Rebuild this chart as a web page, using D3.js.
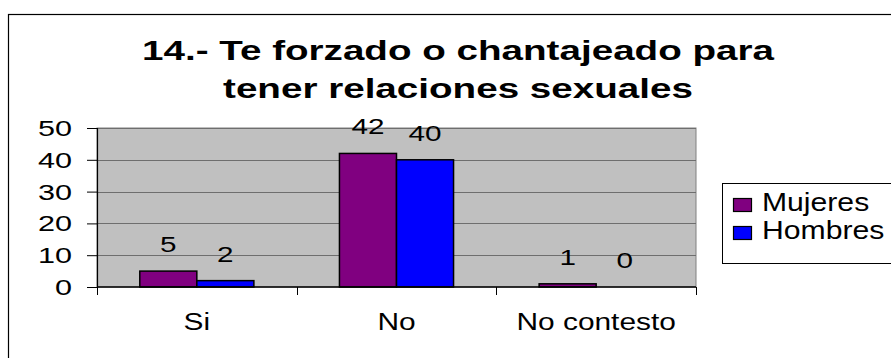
<!DOCTYPE html>
<html>
<head>
<meta charset="utf-8">
<script src="https://cdn.jsdelivr.net/npm/d3@7"></script>
<style>
  html, body { margin: 0; padding: 0; background: #fff; }
  svg { display: block; }
  text { font-family: "Liberation Sans", Arial, sans-serif; fill: #000; }
</style>
</head>
<body>
<script>
// Chart data
const titleLines = ["14.- Te forzado o chantajeado para", "tener relaciones sexuales"];
const categories = ["Si", "No", "No contesto"];
const seriesNames = ["Mujeres", "Hombres"];
const mujeres = [5, 42, 1];
const hombres = [2, 40, 0];
const seriesColors = ["#800080", "#0000FF"];
const yTicks = [0, 10, 20, 30, 40, 50];

const W = 891, H = 358;
const plot = { left: 97, right: 696, top: 128, bottom: 287 };

const svg = d3.select("body").append("svg").attr("width", W).attr("height", H);

// stretched text helper (wide, Excel-like lettering)
function stretchedText(g, x, y, str, size, sx, anchor, weight) {
  return g.append("text")
    .attr("transform", `translate(${x},${y}) scale(${sx},1)`)
    .attr("text-anchor", anchor)
    .attr("font-size", size)
    .attr("font-weight", weight || "normal")
    .text(str);
}

// outer chart frame
svg.append("rect")
  .attr("x", 8.5).attr("y", 14.5)
  .attr("width", W + 10).attr("height", H + 10)
  .attr("fill", "#fff").attr("stroke", "#000").attr("stroke-width", 1.2);

// title
titleLines.forEach((t, i) => {
  stretchedText(svg, 458, 60 + i * 38, t, 28.5, 1.355, "middle", "bold");
});

const x = d3.scaleBand().domain(categories).range([plot.left, plot.right]).padding(0);
const xs = d3.scaleBand().domain(seriesNames).range([0, x.bandwidth()])
  .paddingInner(0).paddingOuter(0.75);
const y = d3.scaleLinear().domain([0, 50]).range([plot.bottom, plot.top]);

// plot background
svg.append("rect")
  .attr("x", plot.left).attr("y", plot.top)
  .attr("width", plot.right - plot.left).attr("height", plot.bottom - plot.top)
  .attr("fill", "#C0C0C0").attr("stroke", "#808080").attr("stroke-width", 1);

// gridlines
svg.append("g").selectAll("line")
  .data(yTicks.filter(d => d > 0))
  .join("line")
  .attr("x1", plot.left).attr("x2", plot.right)
  .attr("y1", d => Math.round(y(d)) + 0.5).attr("y2", d => Math.round(y(d)) + 0.5)
  .attr("stroke", "#6e6e6e").attr("stroke-width", 1);

// bars
const data = categories.map((c, i) => ({ cat: c, values: [mujeres[i], hombres[i]] }));
const groups = svg.append("g").selectAll("g")
  .data(data).join("g")
  .attr("transform", d => `translate(${x(d.cat)},0)`);

groups.selectAll("rect")
  .data(d => d.values.map((v, j) => ({ name: seriesNames[j], v, j })).filter(e => e.v > 0))
  .join("rect")
  .attr("x", e => xs(e.name))
  .attr("width", xs.bandwidth())
  .attr("y", e => y(e.v))
  .attr("height", e => y(0) - y(e.v))
  .attr("fill", e => seriesColors[e.j])
  .attr("stroke", "#000").attr("stroke-width", 1.5);

// value labels
groups.each(function (d) {
  const g = d3.select(this);
  d.values.forEach((v, j) => {
    const cx = xs(seriesNames[j]) + xs.bandwidth() / 2;
    stretchedText(g, cx, y(v) - 19, String(v), 22.5, 1.32, "middle");
  });
});

// y axis
const yAxis = d3.axisLeft(y).tickValues(yTicks).tickSize(10).tickPadding(0).tickFormat("");
const yg = svg.append("g").attr("transform", `translate(${plot.left},0)`).call(yAxis);
yg.select(".domain").attr("stroke", "#000").attr("stroke-width", 1.2);
yg.selectAll(".tick line").attr("stroke", "#000").attr("stroke-width", 1);
yTicks.forEach(t => {
  stretchedText(svg, 72, y(t) + 8, String(t), 22, 1.39, "end");
});

// x axis with ticks at category boundaries
const xg = svg.append("g").attr("transform", `translate(0,${plot.bottom})`);
xg.append("line")
  .attr("x1", plot.left).attr("x2", plot.right).attr("y1", 0).attr("y2", 0)
  .attr("stroke", "#000").attr("stroke-width", 1.4);
const bounds = categories.map(c => x(c)).concat([x(categories[categories.length - 1]) + x.bandwidth()]);
xg.selectAll("line.b").data(bounds).join("line").attr("class", "b")
  .attr("x1", d => Math.round(d) + 0.5).attr("x2", d => Math.round(d) + 0.5)
  .attr("y1", 0).attr("y2", 8)
  .attr("stroke", "#000").attr("stroke-width", 1);
categories.forEach(c => {
  stretchedText(svg, x(c) + x.bandwidth() / 2, 330, c, 24.5, 1.22, "middle");
});

// legend
const lg = svg.append("g");
lg.append("rect")
  .attr("x", 722.5).attr("y", 183.5).attr("width", 180).attr("height", 80)
  .attr("fill", "#fff").attr("stroke", "#000").attr("stroke-width", 1);
seriesNames.forEach((n, i) => {
  lg.append("rect")
    .attr("x", 733.5).attr("y", 198.5 + i * 28).attr("width", 18).attr("height", 13)
    .attr("fill", seriesColors[i]).attr("stroke", "#000").attr("stroke-width", 1.2);
  stretchedText(lg, 762, 211 + i * 28, n, 26, 1.16, "start");
});
</script>
</body>
</html>
